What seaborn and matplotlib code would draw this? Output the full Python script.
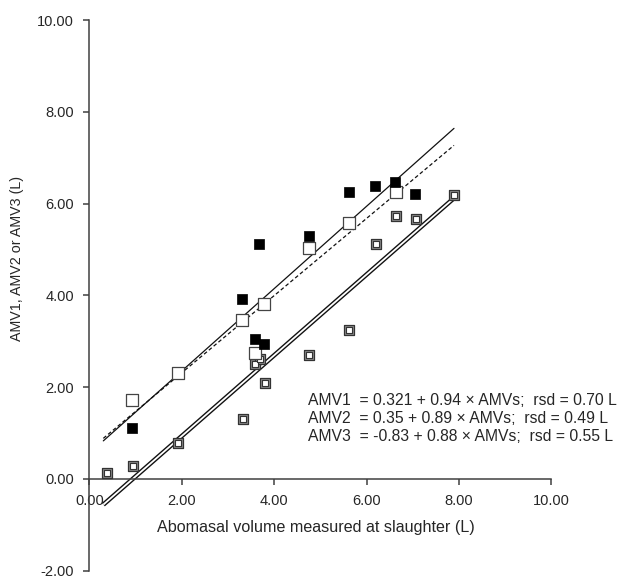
import numpy as np
import pandas as pd
import matplotlib
matplotlib.use("Agg")
import matplotlib.pyplot as plt
import seaborn as sns

# ---- data ----
amv1_x = [0.91, 3.31, 3.59, 3.67, 3.77, 4.75, 5.61, 6.18, 6.62, 7.05]
amv1_y = [1.12, 3.93, 3.06, 5.13, 2.95, 5.29, 6.26, 6.38, 6.47, 6.22]

amv2_x = [0.92, 1.91, 3.31, 3.59, 3.78, 4.75, 5.61, 6.63]
amv2_y = [1.72, 2.31, 3.46, 2.75, 3.82, 5.04, 5.58, 6.25]

amv3_x = [0.39, 0.94, 1.92, 3.32, 3.59, 3.69, 3.80, 4.76, 5.62, 6.20, 6.63, 7.07, 7.88]
amv3_y = [0.12, 0.28, 0.78, 1.31, 2.50, 2.61, 2.09, 2.71, 3.24, 5.13, 5.73, 5.66, 6.18]

# fitted-line endpoints
fit_x = [0.30, 7.89]
fit1_y = [0.83, 7.64]
fit2_y = [0.885, 7.27]
fit3_y = [-0.56, 6.12]

equations = [
    "AMV1  = 0.321 + 0.94 \u00d7 AMVs;  rsd = 0.70 L",
    "AMV2  = 0.35 + 0.89 \u00d7 AMVs;  rsd = 0.49 L",
    "AMV3  = -0.83 + 0.88 \u00d7 AMVs;  rsd = 0.55 L",
]
ticks_x = [0, 2, 4, 6, 8, 10]
ticks_y = [-2, 0, 2, 4, 6, 8, 10]

# ---- plotting ----
sns.set_theme(style="white")
plt.rcParams["font.family"] = ["Liberation Sans", "DejaVu Sans"]
TXT = "#262626"
SP = "#404040"

fig = plt.figure(figsize=(6.17, 5.79), dpi=100)
ax = fig.add_axes([0.145, 0.0143, 0.7488, 0.951])

d1 = pd.DataFrame({"x": amv1_x, "y": amv1_y})
d2 = pd.DataFrame({"x": amv2_x, "y": amv2_y})
d3 = pd.DataFrame({"x": amv3_x, "y": amv3_y})
l1 = pd.DataFrame({"x": fit_x, "y": fit1_y})
l2 = pd.DataFrame({"x": fit_x, "y": fit2_y})
l3 = pd.DataFrame({"x": fit_x, "y": fit3_y})

# lines
sns.lineplot(data=l1, x="x", y="y", ax=ax, color="#111111", lw=0.9, estimator=None, zorder=2)
sns.lineplot(data=l2, x="x", y="y", ax=ax, color="#111111", lw=0.9, estimator=None,
             linestyle=(0, (3, 2)), zorder=2)
sns.lineplot(data=l3, x="x", y="y", ax=ax, color="#111111", lw=3.3, estimator=None, zorder=2,
             solid_capstyle="butt")
sns.lineplot(data=l3, x="x", y="y", ax=ax, color="white", lw=1.3, estimator=None, zorder=2.1,
             solid_capstyle="butt")

# points
sns.scatterplot(data=d3, x="x", y="y", ax=ax, marker="s", s=62, color="#8a8a8a",
                edgecolor="#333333", linewidth=0.9, zorder=3)
sns.scatterplot(data=d3, x="x", y="y", ax=ax, marker="s", s=16, color="white",
                edgecolor="#333333", linewidth=0.8, zorder=3.1)
sns.scatterplot(data=d2, x="x", y="y", ax=ax, marker="s", s=70, color="white",
                edgecolor="#444444", linewidth=0.9, zorder=3.2)
sns.scatterplot(data=d1, x="x", y="y", ax=ax, marker="s", s=58, color="black",
                edgecolor="black", linewidth=0.5, zorder=3.3)

# axes styling
ax.set_xlim(0, 10)
ax.set_ylim(-2, 10)
ax.spines["left"].set_position(("data", 0))
ax.spines["bottom"].set_position(("data", 0))
for s in ("top", "right"):
    ax.spines[s].set_visible(False)
for s in ("left", "bottom"):
    ax.spines[s].set_color(SP)
    ax.spines[s].set_linewidth(1.1)

ax.set_xticks(ticks_x)
ax.set_yticks(ticks_y)
ax.set_xticklabels([f"{v:.2f}" for v in ticks_x])
ax.set_yticklabels([f"{v:.2f}" for v in ticks_y])
ax.tick_params(axis="both", direction="out", length=4, width=1.1, color=SP,
               labelsize=10.5, labelcolor=TXT)
ax.tick_params(axis="x", pad=7, bottom=True)
ax.tick_params(axis="y", pad=7, left=True)

ax.set_xlabel("Abomasal volume measured at slaughter (L)", fontsize=11.6, color=TXT)
ax.set_ylabel("AMV1, AMV2 or AMV3 (L)", fontsize=10.3, color=TXT)
ax.xaxis.set_label_coords(0.49, 0.092)
ax.yaxis.set_label_coords(-0.142, 0.567)

for txt, yy in zip(equations, [1.72, 1.32, 0.93]):
    ax.text(4.72, yy, txt, fontsize=11.3, color=TXT, va="center", ha="left", clip_on=False)

ax.set_facecolor("white")
fig.patch.set_facecolor("white")
fig.savefig("out.png", dpi=100, facecolor="white")
